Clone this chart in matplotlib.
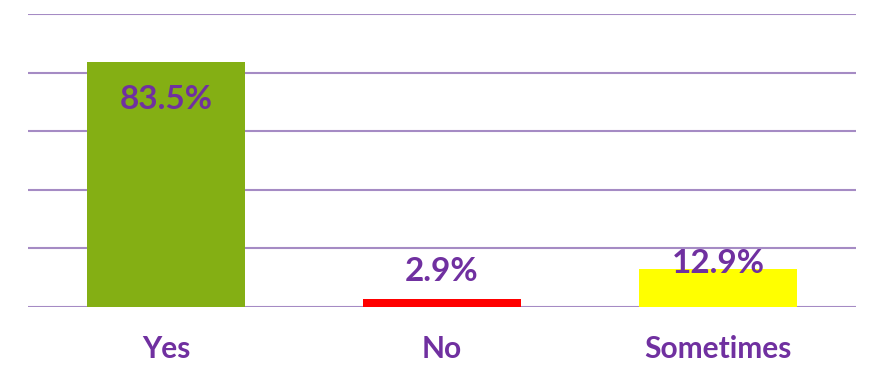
import matplotlib
matplotlib.use("Agg")
import matplotlib.pyplot as plt
import numpy as np

categories = ["Yes", "No", "Sometimes"]
percentages = [83.5, 2.9, 12.9]
bar_colors = ["#84AF14", "#FF0000", "#FFFF00"]
y_ticks = [0, 20, 40, 60, 80, 100]

PURPLE = "#7030A0"
GRID = "#A58BC4"

plt.rcParams["font.family"] = ["Lato", "DejaVu Sans"]

fig = plt.figure(figsize=(8.73, 3.66), dpi=100)
ax = fig.add_axes([28 / 873, 1 - 307 / 366, (856 - 28) / 873, (307 - 14) / 366])

x = np.arange(len(categories))
bars = ax.bar(x, percentages, width=0.574, color=bar_colors, zorder=3)

ax.set_xlim(-0.5, len(categories) - 0.5)
ax.set_ylim(0, 100)
ax.set_yticks(y_ticks)
ax.yaxis.grid(True, color=GRID, linewidth=1.5, zorder=0)
ax.set_axisbelow(True)
ax.tick_params(axis="y", left=False, labelleft=False)
ax.tick_params(axis="x", bottom=False, pad=17)
ax.set_xticks(x)
ax.set_xticklabels(categories, color=PURPLE, fontsize=21.5, fontweight="bold")
for s in ax.spines.values():
    s.set_visible(False)

# value labels: inside the tall bar, above the short ones
offsets = [-37, 27, 6]
for rect, val, off in zip(bars, percentages, offsets):
    ax.annotate(f"{val}%", (rect.get_x() + rect.get_width() / 2, val),
                xytext=(0, off * 0.72), textcoords="offset points",
                ha="center", va="center", color=PURPLE,
                fontsize=24, fontweight="bold", zorder=4)

fig.savefig("out.png", dpi=100)
